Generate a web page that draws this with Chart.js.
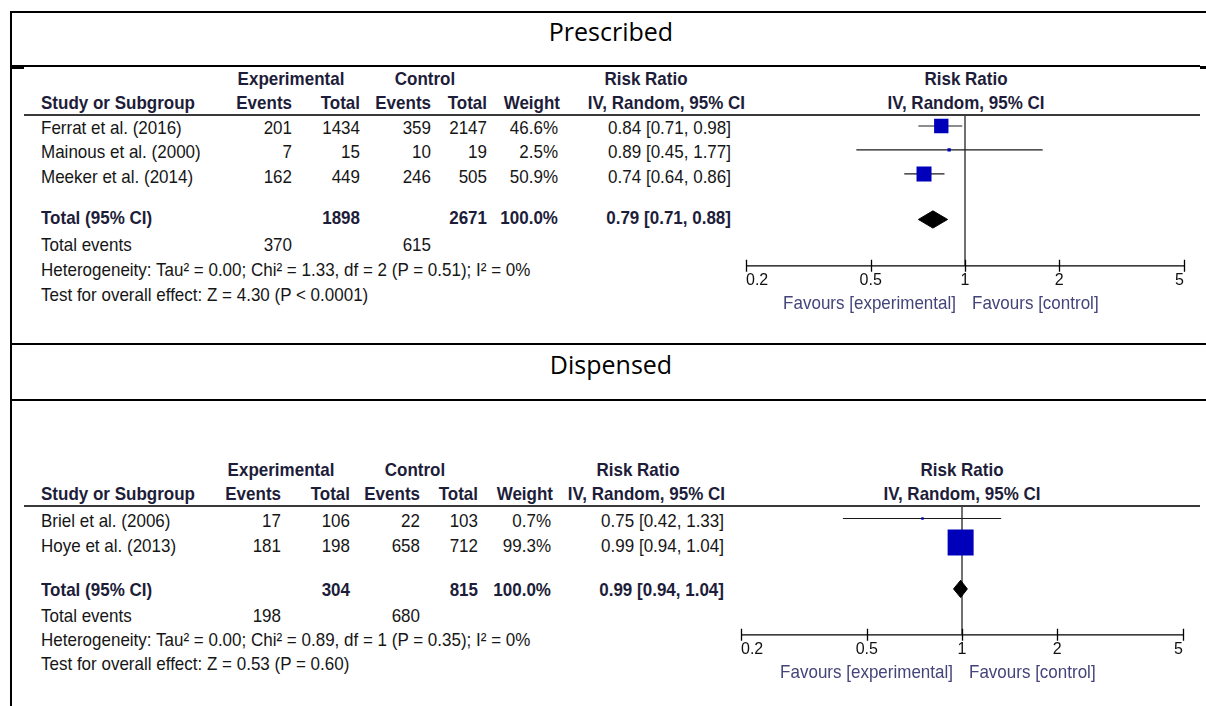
<!DOCTYPE html>
<html>
<head>
<meta charset="utf-8">
<script src="https://cdn.jsdelivr.net/npm/chart.js@4/dist/chart.umd.min.js"></script>
<style>
  html, body { margin: 0; padding: 0; background: #fff; }
  #page { position: relative; width: 1206px; height: 706px; overflow: hidden;
          font-family: "Liberation Sans", Arial, sans-serif; }
  .rule { position: absolute; background: #000; }
  .t { position: absolute; white-space: nowrap; font-size: 17px; line-height: 20px; height: 20px; color: #161616;
       transform: scaleY(1.12); transform-origin: 50% 50%; }
  .b { font-weight: bold; color: #1d1d3a; }
  .fav { color: #44447a; }
  .title { position: absolute; left: 0; width: 1222px; text-align: center; font-family: "Open Sans", "Noto Sans", sans-serif;
           font-size: 25px; line-height: 30px; color: #000; }
  canvas { position: absolute; }
</style>
</head>
<body>
<div id="page"></div>
<script>
// ---- Prescribed ----
const studiesP   = ['Ferrat et al. (2016)', 'Mainous et al. (2000)', 'Meeker et al. (2014)'];
const expEventsP = [201, 7, 162];
const expTotalP  = [1434, 15, 449];
const ctlEventsP = [359, 10, 246];
const ctlTotalP  = [2147, 19, 505];
const weightP    = [46.6, 2.5, 50.9];
const rrP        = [0.84, 0.89, 0.74];
const rrLowP     = [0.71, 0.45, 0.64];
const rrHighP    = [0.98, 1.77, 0.86];
const pooledP    = [0.79, 0.71, 0.88];      // estimate, lower, upper
const totalsP    = [1898, 2671];            // experimental, control participants
const eventsSumP = [370, 615];
const hetP       = 'Heterogeneity: Tau² = 0.00; Chi² = 1.33, df = 2 (P = 0.51); I² = 0%';
const testP      = 'Test for overall effect: Z = 4.30 (P < 0.0001)';

// ---- Dispensed ----
const studiesD   = ['Briel et al. (2006)', 'Hoye et al. (2013)'];
const expEventsD = [17, 181];
const expTotalD  = [106, 198];
const ctlEventsD = [22, 658];
const ctlTotalD  = [103, 712];
const weightD    = [0.7, 99.3];
const rrD        = [0.75, 0.99];
const rrLowD     = [0.42, 0.94];
const rrHighD    = [1.33, 1.04];
const pooledD    = [0.99, 0.94, 1.04];
const totalsD    = [304, 815];
const eventsSumD = [198, 680];
const hetD       = 'Heterogeneity: Tau² = 0.00; Chi² = 0.89, df = 1 (P = 0.35); I² = 0%';
const testD      = 'Test for overall effect: Z = 0.53 (P = 0.60)';

const axisTicks = [0.2, 0.5, 1, 2, 5];
const favLeft  = 'Favours [experimental]';
const favRight = 'Favours [control]';

const page = document.getElementById('page');

function rule(x, y, w, h, color) {
  const d = document.createElement('div');
  d.className = 'rule';
  Object.assign(d.style, { left: x + 'px', top: y + 'px', width: w + 'px', height: h + 'px' });
  if (color) d.style.background = color;
  page.appendChild(d);
}

function text(str, x, y, align, cls) {
  const d = document.createElement('div');
  d.className = 't' + (cls ? ' ' + cls : '');
  d.textContent = str;
  d.style.top = (y - 10) + 'px';
  if (align === 'r') { d.style.left = (x - 500) + 'px'; d.style.width = '500px'; d.style.textAlign = 'right'; }
  else if (align === 'c') { d.style.left = (x - 300) + 'px'; d.style.width = '600px'; d.style.textAlign = 'center'; }
  else { d.style.left = x + 'px'; }
  page.appendChild(d);
}

function title(str, y) {
  const d = document.createElement('div');
  d.className = 'title';
  d.textContent = str;
  d.style.top = (y - 15) + 'px';
  page.appendChild(d);
}

// frame of the two-section table
rule(10, 11, 1196, 2);
rule(10, 11, 2, 695);
rule(10, 65, 1190, 2);
rule(10, 67, 14, 2);
rule(1200, 66, 6, 3);
rule(10, 343, 1196, 2);
rule(10, 399, 1196, 2);
title('Prescribed', 31);
title('Dispensed', 364);

const fmt2 = v => v.toFixed(2);
const ciText = (e, l, h) => `${fmt2(e)} [${fmt2(l)}, ${fmt2(h)}]`;

function panel(d, L) {
  const c = L.cols;
  // column headers
  text('Experimental', L.head.exp, L.hy1, 'c', 'b');
  text('Control', L.head.ctl, L.hy1, 'c', 'b');
  text('Risk Ratio', L.head.rr, L.hy1, 'c', 'b');
  text('Risk Ratio', L.head.plot, L.hy1, 'c', 'b');
  text('Study or Subgroup', 41, L.hy2, 'l', 'b');
  text('Events', c.ev, L.hy2, 'r', 'b');
  text('Total', c.tot, L.hy2, 'r', 'b');
  text('Events', c.cev, L.hy2, 'r', 'b');
  text('Total', c.ctot, L.hy2, 'r', 'b');
  text('Weight', c.w + 2, L.hy2, 'r', 'b');
  text('IV, Random, 95% CI', L.head.ivRight, L.hy2, 'r', 'b');
  text('IV, Random, 95% CI', L.head.plot, L.hy2, 'c', 'b');
  rule(24, L.ruleY, 1176, 2, '#3a3a3a');

  // study rows
  d.studies.forEach((s, i) => {
    const y = L.row0 + i * L.rowH;
    text(s, 41, y, 'l');
    text(String(d.ee[i]), c.ev, y, 'r');
    text(String(d.et[i]), c.tot, y, 'r');
    text(String(d.ce[i]), c.cev, y, 'r');
    text(String(d.ct[i]), c.ctot, y, 'r');
    text(d.w[i].toFixed(1) + '%', c.w, y, 'r');
    text(ciText(d.rr[i], d.lo[i], d.hi[i]), c.ci, y, 'r');
  });
  // pooled row
  text('Total (95% CI)', 41, L.totY, 'l', 'b');
  text(String(d.totals[0]), c.tot, L.totY, 'r', 'b');
  text(String(d.totals[1]), c.ctot, L.totY, 'r', 'b');
  text(d.w.reduce((a, b) => a + b, 0).toFixed(1) + '%', c.w, L.totY, 'r', 'b');
  text(ciText(d.pooled[0], d.pooled[1], d.pooled[2]), c.ci, L.totY, 'r', 'b');
  text('Total events', 41, L.evY, 'l');
  text(String(d.evSum[0]), c.ev, L.evY, 'r');
  text(String(d.evSum[1]), c.cev, L.evY, 'r');
  text(d.het, 41, L.evY + L.noteH, 'l');
  text(d.test, 41, L.evY + 2 * L.noteH, 'l');

  // forest plot
  const P = L.plot;
  const cv = document.createElement('canvas');
  cv.width = P.width; cv.height = P.height;
  cv.style.left = P.left + 'px'; cv.style.top = P.top + 'px';
  page.appendChild(cv);

  const yMin = -(P.firstRowPx - P.top) / L.markH;
  const yMax = (P.axisPx - P.firstRowPx) / L.markH;
  const maxW = Math.max(...d.w);
  const boxSide = w => Math.max(2.4, P.maxBox * Math.sqrt(w / maxW));
  const totRow = d.studies.length - 1 + L.totalGap;
  const dh = 0.36;

  const datasets = [];
  d.rr.forEach((v, i) => datasets.push({
    data: [{ x: d.lo[i], y: i }, { x: d.hi[i], y: i }],
    showLine: true, borderColor: '#1a1a1a', borderWidth: 1.2, pointRadius: 0, order: 2
  }));
  datasets.push({
    data: [{ x: 1, y: yMin }, { x: 1, y: yMax }],
    showLine: true, borderColor: '#111', borderWidth: 1.2, pointRadius: 0, order: 3
  });
  datasets.push({
    data: d.rr.map((v, i) => ({ x: v, y: i })),
    pointStyle: 'rect', pointRadius: d.w.map(w => boxSide(w) / Math.SQRT2),
    backgroundColor: '#0000bb', borderWidth: 0, order: 0
  });
  const [pe, pl, ph] = d.pooled;
  datasets.push({
    data: [{ x: pl, y: totRow }, { x: pe, y: totRow - dh }, { x: ph, y: totRow }, { x: pe, y: totRow + dh }, { x: pl, y: totRow }],
    showLine: true, fill: 'shape', backgroundColor: '#000', borderColor: '#000', borderWidth: 1,
    pointRadius: 0, tension: 0, order: 1
  });

  const axisPlugin = {
    id: 'forestAxis',
    afterDatasetsDraw(chart) {
      const x = chart.scales.x, ctx = chart.ctx, yb = chart.chartArea.bottom;
      ctx.save();
      ctx.strokeStyle = '#000';
      ctx.lineWidth = 1.3;
      ctx.beginPath();
      ctx.moveTo(x.getPixelForValue(axisTicks[0]), yb);
      ctx.lineTo(x.getPixelForValue(axisTicks[axisTicks.length - 1]), yb);
      axisTicks.forEach(t => {
        const px = Math.round(x.getPixelForValue(t)) + 0.5;
        ctx.moveTo(px, yb - 6); ctx.lineTo(px, yb + 6);
      });
      ctx.stroke();
      ctx.restore();
    }
  };

  const chart = new Chart(cv, {
    type: 'scatter',
    data: { datasets },
    plugins: [axisPlugin],
    options: {
      responsive: false, animation: false,
      layout: { autoPadding: false, padding: { left: P.padL, right: P.padR, top: 0, bottom: 0 } },
      plugins: { legend: { display: false }, tooltip: { enabled: false } },
      scales: {
        x: {
          type: 'logarithmic', min: axisTicks[0], max: axisTicks[axisTicks.length - 1],
          afterBuildTicks: s => { s.ticks = axisTicks.map(v => ({ value: v })); },
          grid: { display: false, drawTicks: false },
          border: { display: false },
          ticks: {
            align: 'inner', autoSkip: false, maxRotation: 0, padding: 5, color: '#111',
            font: { family: '"Liberation Sans", Arial, sans-serif', size: 16 },
            callback: v => String(v)
          }
        },
        y: { type: 'linear', reverse: true, min: yMin, max: yMax, display: false }
      }
    }
  });

  // grow the canvas so the axis line lands on the intended baseline
  const gap = (P.axisPx - P.top) - chart.chartArea.bottom;
  if (Math.abs(gap) > 0.1) chart.resize(P.width, P.height + Math.round(gap));
  // keep the end ticks at the intended horizontal span
  const xs = chart.scales.x;
  const dl = (P.x0 - P.left) - xs.left, dr = xs.right - (P.x1 - P.left);
  if (Math.abs(dl) > 0.1 || Math.abs(dr) > 0.1) {
    chart.options.layout.padding = { left: P.padL + dl, right: P.padR + dr, top: 0, bottom: 0 };
    chart.update();
  }

  const one = P.left + chart.scales.x.getPixelForValue(1);
  const axisY = P.top + chart.chartArea.bottom;
  text(favLeft, one - 9, axisY + 37, 'r', 'fav');
  text(favRight, one + 7, axisY + 37, 'l', 'fav');
}

panel(
  { studies: studiesP, ee: expEventsP, et: expTotalP, ce: ctlEventsP, ct: ctlTotalP, w: weightP,
    rr: rrP, lo: rrLowP, hi: rrHighP, pooled: pooledP, totals: totalsP, evSum: eventsSumP, het: hetP, test: testP },
  { hy1: 79, hy2: 103, ruleY: 114, row0: 128, rowH: 24.3, totY: 218, evY: 245, noteH: 25, markH: 24, totalGap: 1.9,
    cols: { ev: 292, tot: 360, cev: 431, ctot: 487, w: 558, ci: 731 },
    head: { exp: 291, ctl: 425, rr: 646, plot: 966, ivRight: 745 },
    plot: { left: 730, top: 116, width: 476, height: 180, padL: 16, padR: 22, x0: 746, x1: 1184,
            firstRowPx: 126, axisPx: 266, maxBox: 15 } }
);

panel(
  { studies: studiesD, ee: expEventsD, et: expTotalD, ce: ctlEventsD, ct: ctlTotalD, w: weightD,
    rr: rrD, lo: rrLowD, hi: rrHighD, pooled: pooledD, totals: totalsD, evSum: eventsSumD, het: hetD, test: testD },
  { hy1: 470, hy2: 494, ruleY: 505, row0: 521, rowH: 25, totY: 590, evY: 616, noteH: 24, markH: 24, totalGap: 1.94,
    cols: { ev: 281, tot: 350, cev: 420, ctot: 478, w: 551, ci: 724 },
    head: { exp: 281, ctl: 415, rr: 638, plot: 962, ivRight: 725 },
    plot: { left: 725, top: 507, width: 481, height: 158, padL: 16, padR: 23, x0: 741, x1: 1183,
            firstRowPx: 518.5, axisPx: 635, maxBox: 26 } }
);
</script>
</body>
</html>
